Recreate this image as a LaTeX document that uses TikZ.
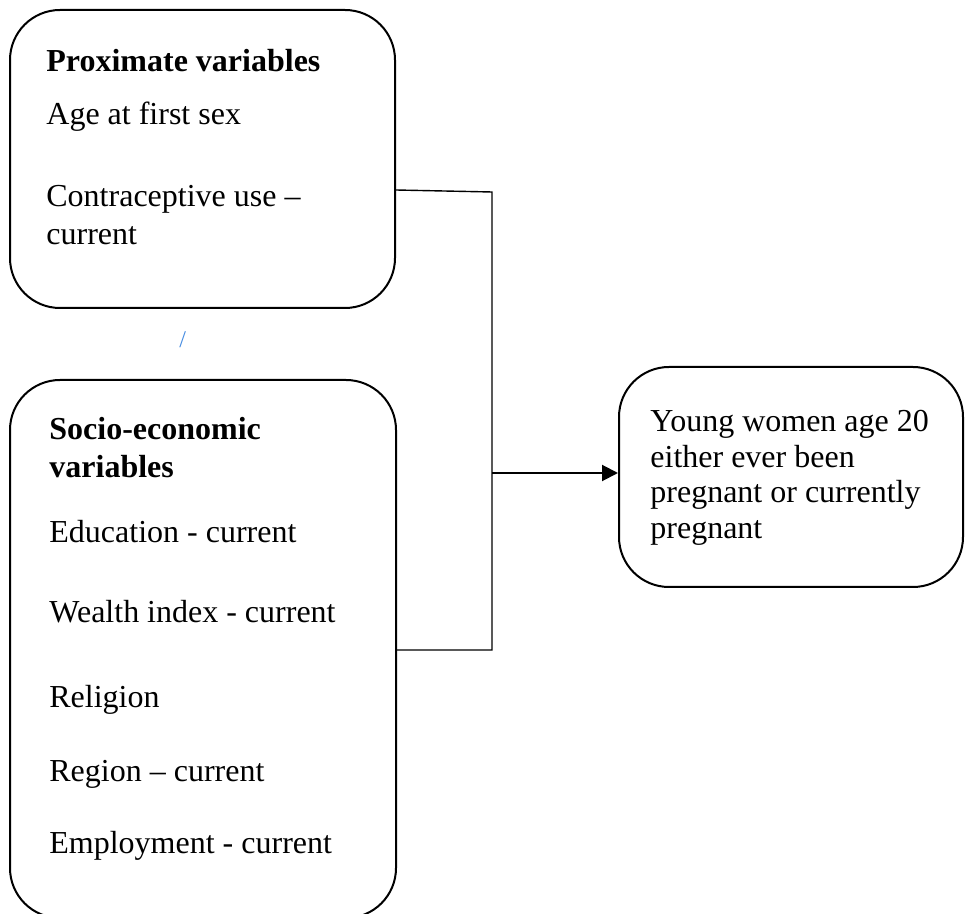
\documentclass[tikz,border=0pt]{standalone}
\usepackage{fontspec}
\setmainfont{Liberation Serif}
\usetikzlibrary{arrows.meta}
\definecolor{slashblue}{RGB}{70,140,225}
\begin{document}
\begin{tikzpicture}[x=0.5pt, y=-0.5pt, font=\fontsize{16}{19}\selectfont]
        \tikzstyle{box}=[draw, line width=1pt, rounded corners=25pt, inner sep=0pt]
        \tikzstyle{txt}=[anchor=base west, inner sep=0pt]
        \tikzstyle{link}=[draw, line width=0.7pt]
        \useasboundingbox (0,0) rectangle (965,914);
        \node [box, minimum width=192.5pt, minimum height=149pt] (prox) at (202.5,159) {};
        \node [box, minimum width=193pt, minimum height=269pt] (socio) at (203,649) {};
        \node [box, minimum width=172pt, minimum height=110pt] (outcome) at (791,477) {};
        \node [txt, font=\fontsize{16}{19}\selectfont\bfseries] (proxhead) at (46,72) {Proximate variables};
        \node [txt] (agesex) at (46,125) {Age at first sex};
        \node [txt] (contra1) at (46,207) {Contraceptive use --};
        \node [txt] (contra2) at (46,245) {current};
        \node [txt, text=slashblue, font=\fontsize{12}{14}\selectfont] (slash) at (179,348) {/};
        \node [txt, font=\fontsize{16}{19}\selectfont\bfseries] (sociohead1) at (49,440) {Socio-economic};
        \node [txt, font=\fontsize{16}{19}\selectfont\bfseries] (sociohead2) at (49,478) {variables};
        \node [txt] (educ) at (49,543) {Education - current};
        \node [txt] (wealth) at (49,623) {Wealth index - current};
        \node [txt] (relig) at (49,708) {Religion};
        \node [txt] (region) at (49,782) {Region -- current};
        \node [txt] (employ) at (49,853) {Employment - current};
        \node [txt] (young1) at (650,432) {Young women age 20};
        \node [txt] (young2) at (650,468) {either ever been};
        \node [txt] (young3) at (650,503) {pregnant or currently};
        \node [txt] (young4) at (650,539) {pregnant};
        \coordinate (jtop) at (492,192);
        \coordinate (jmid) at (492,473);
        \coordinate (jbot) at (492,650);
        \draw [link] (prox.east |- 0,190) -- (jtop) -- (jbot) -- (socio.east |- jbot);
        \draw [line width=1pt, -{Triangle[length=8pt,width=8pt]}] (jmid) -- (outcome.west |- jmid);
    \end{tikzpicture}
\end{document}
